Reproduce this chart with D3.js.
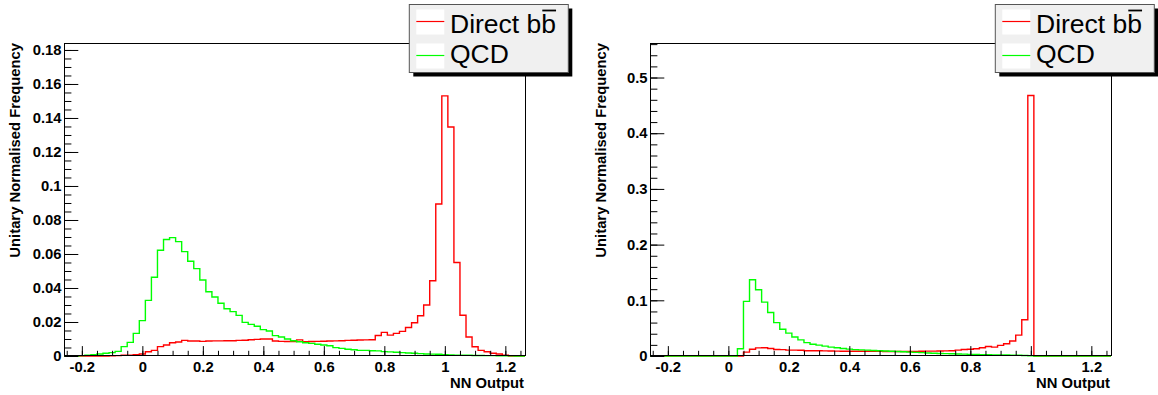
<!DOCTYPE html>
<html>
<head>
<meta charset="utf-8">
<script src="https://cdn.jsdelivr.net/npm/d3@7"></script>
<style>
  body { margin: 0; background: #fff; }
  svg { display: block; font-family: "Liberation Sans", Arial, Helvetica, sans-serif; }
  .tick text { font-weight: bold; font-size: 14.8px; fill: #000; }
</style>
</head>
<body>
<svg id="chart"></svg>
<script>
const width = 1158;
const height = 395;

// histogram binning (lower edge of first bin, bin width)
const binStart = -0.25;
const binWidth = 0.02;
const xDomain = [-0.259, 1.265];

// left panel: bin contents, bins centred on -0.24 ... 1.24
const redLeft = [
  0, 0, 0, 0, 0, 0, 0, 0.0001, 0.0002, 0.0004,
  0.0005, 0.0008, 0.0012, 0.0025, 0.0033, 0.0055, 0.0065, 0.0078, 0.0082, 0.0092,
  0.0088, 0.0088, 0.0086, 0.0088, 0.0089, 0.0089, 0.009, 0.009, 0.0092, 0.0093,
  0.0096, 0.0098, 0.0100, 0.0100, 0.0088, 0.0086, 0.0085, 0.0085, 0.0095, 0.0084,
  0.0085, 0.0086, 0.0087, 0.0088, 0.0089, 0.009, 0.0092, 0.0093, 0.0094, 0.0095,
  0.0096, 0.0121, 0.0139, 0.0123, 0.0133, 0.0145, 0.0168, 0.0196, 0.0237, 0.030,
  0.0443, 0.0894, 0.153, 0.1347, 0.055, 0.024, 0.0112, 0.0054, 0.0033, 0.0025,
  0.0016, 0.0012, 0.0005, 0, 0
];
const greenLeft = [
  0, 0, 0.0002, 0.0004, 0.0007, 0.0012, 0.0016, 0.002, 0.0027, 0.0055,
  0.008, 0.0133, 0.0208, 0.0327, 0.0463, 0.0622, 0.0685, 0.0696, 0.0673, 0.0614,
  0.0557, 0.0514, 0.0447, 0.0378, 0.0347, 0.031, 0.0278, 0.0261, 0.0239, 0.0198,
  0.0186, 0.0175, 0.0155, 0.0147, 0.012, 0.0112, 0.010, 0.009, 0.0084, 0.0078,
  0.0074, 0.0069, 0.0065, 0.006, 0.0049, 0.0045, 0.004, 0.0037, 0.0033, 0.0033,
  0.0031, 0.003, 0.0026, 0.0024, 0.0022, 0.002, 0.0018, 0.0016, 0.0014, 0.0012,
  0.0011, 0.001, 0.0008, 0.0006, 0.0005, 0.0004, 0.0004, 0.0003, 0.0003, 0.0002,
  0.0002, 0.0001, 0.0001, 0.0001, 0
];

// right panel
const redRight = [
  0, 0, 0, 0, 0, 0, 0, 0, 0, 0,
  0, 0, 0, 0, 0, 0.007, 0.012, 0.0145, 0.0147, 0.0136,
  0.0117, 0.0115, 0.0106, 0.0106, 0.0104, 0.0095, 0.0093, 0.0093, 0.0092, 0.009,
  0.0088, 0.0086, 0.0085, 0.0085, 0.0085, 0.0084, 0.0084, 0.0083, 0.0082, 0.008,
  0.008, 0.008, 0.0081, 0.0082, 0.0086, 0.0088, 0.0088, 0.009, 0.0092, 0.0095,
  0.0106, 0.0117, 0.012, 0.013, 0.0147, 0.017, 0.016, 0.019, 0.022, 0.027,
  0.0375, 0.065, 0.4677, 0, 0, 0, 0, 0, 0, 0,
  0, 0, 0, 0, 0
];
const greenRight = [
  0, 0, 0, 0, 0, 0, 0, 0, 0, 0,
  0, 0, 0, 0, 0.013, 0.098, 0.137, 0.119, 0.0967, 0.078,
  0.060, 0.048, 0.041, 0.034, 0.029, 0.024, 0.021, 0.0195, 0.0178, 0.016,
  0.0148, 0.0136, 0.0124, 0.0115, 0.011, 0.0105, 0.010, 0.0095, 0.009, 0.0085,
  0.008, 0.0075, 0.007, 0.0065, 0.006, 0.0055, 0.005, 0.0046, 0.0043, 0.004,
  0.0036, 0.0033, 0.003, 0.0028, 0.0025, 0.0023, 0.0021, 0.0019, 0.0017, 0.0015,
  0.0013, 0.001, 0.0005, 0, 0, 0, 0, 0, 0, 0,
  0, 0, 0, 0, 0
];

const xMajor = [-0.2, 0, 0.2, 0.4, 0.6, 0.8, 1, 1.2];
const xMinor = d3.range(-0.25, 1.2501, 0.05);
const yMajorLeft = [0, 0.02, 0.04, 0.06, 0.08, 0.1, 0.12, 0.14, 0.16, 0.18];
const yMajorRight = [0, 0.1, 0.2, 0.3, 0.4, 0.5];

const seriesNames = ["Direct b", "QCD"];
const seriesColors = ["#ff0000", "#00ff00"];

const frameTop = 43;
const frameW = 461;
const frameH = 313;

const svg = d3.select("#chart")
    .attr("width", width)
    .attr("height", height)
    .attr("viewBox", [0, 0, width, height]);

function fmt(v) {
    return String(+v.toFixed(2));
}

function drawPanel(left, yMax, yMajor, yMinorStep, red, green) {
    const g = svg.append("g");
    const x = d3.scaleLinear().domain(xDomain).range([left, left + frameW]);
    const y = d3.scaleLinear().domain([0, yMax]).range([frameTop + frameH, frameTop]);

    const line = d3.line()
        .x(d => x(d[0]))
        .y(d => y(d[1]))
        .curve(d3.curveStepAfter);

    function steps(vals) {
        const pts = [[xDomain[0], 0]];
        vals.forEach((v, i) => pts.push([binStart + i * binWidth, v]));
        pts.push([binStart + vals.length * binWidth, 0]);
        pts.push([xDomain[1], 0]);
        return pts;
    }

    [red, green].forEach((vals, i) => {
        g.append("path")
            .attr("d", line(steps(vals)))
            .attr("fill", "none")
            .attr("stroke", seriesColors[i])
            .attr("stroke-width", 1.4);
    });

    // frame
    g.append("rect")
        .attr("x", left + 0.5)
        .attr("y", frameTop + 0.5)
        .attr("width", frameW)
        .attr("height", frameH - 1)
        .attr("fill", "none")
        .attr("stroke", "#000")
        .attr("stroke-width", 1);

    const bottom = frameTop + frameH - 0.5;
    const xMinorAxis = d3.axisBottom(x).tickValues(xMinor).tickSize(-4.7).tickFormat("");
    const xMajorAxis = d3.axisBottom(x).tickValues(xMajor).tickSize(-9.4).tickPadding(5.5).tickFormat(fmt);
    g.append("g").attr("transform", `translate(0,${bottom})`).call(xMinorAxis)
        .call(a => a.select(".domain").remove());
    g.append("g").attr("transform", `translate(0,${bottom})`).call(xMajorAxis)
        .call(a => a.select(".domain").remove());

    const yMinor = d3.range(0, yMax + 1e-9, yMinorStep);
    const yMinorAxis = d3.axisLeft(y).tickValues(yMinor).tickSize(-6.9).tickFormat("");
    const yMajorAxis = d3.axisLeft(y).tickValues(yMajor).tickSize(-13.8).tickPadding(3).tickFormat(fmt);
    g.append("g").attr("transform", `translate(${left + 0.5},0)`).call(yMinorAxis)
        .call(a => a.select(".domain").remove());
    g.append("g").attr("transform", `translate(${left + 0.5},0)`).call(yMajorAxis)
        .call(a => a.select(".domain").remove());
    g.selectAll(".tick line").attr("stroke", "#000");

    // axis titles
    g.append("text")
        .attr("x", left + frameW - 1)
        .attr("y", 388)
        .attr("text-anchor", "end")
        .attr("font-weight", "bold")
        .attr("font-size", 14.8)
        .text("NN Output");
    g.append("text")
        .attr("transform", `translate(${left - 44},${frameTop}) rotate(-90)`)
        .attr("text-anchor", "end")
        .attr("font-weight", "bold")
        .attr("font-size", 14.8)
        .text("Unitary Normalised Frequency");

    // legend
    const lx = left + 345.3, ly = 4.5, lw = 159, lh = 68;
    g.append("rect")
        .attr("x", lx + 4).attr("y", ly + 4).attr("width", lw).attr("height", lh)
        .attr("fill", "#000");
    g.append("rect")
        .attr("x", lx).attr("y", ly).attr("width", lw).attr("height", lh)
        .attr("fill", "#f0f0f0").attr("stroke", "#555").attr("stroke-width", 1);
    seriesNames.forEach((name, i) => {
        const ry = ly + 5 + i * 34;
        g.append("rect")
            .attr("x", lx + 7).attr("y", ry).attr("width", 28).attr("height", 25)
            .attr("fill", "#fff");
        g.append("line")
            .attr("x1", lx + 7).attr("x2", lx + 35)
            .attr("y1", ry + 12).attr("y2", ry + 12)
            .attr("stroke", seriesColors[i]).attr("stroke-width", 1.2);
        const t = g.append("text")
            .attr("x", lx + 40.7)
            .attr("y", ly + 28 + i * 30.4)
            .attr("font-size", 26.5)
            .text(i === 0 ? name + "b" : name);
        if (i === 0) {
            const node = t.node();
            const idx = name.length;
            const start = node.getStartPositionOfChar(idx).x;
            const w = node.getSubStringLength(idx, 1);
            g.append("line")
                .attr("x1", start + 1).attr("x2", start + w)
                .attr("y1", ly + 6).attr("y2", ly + 6)
                .attr("stroke", "#000").attr("stroke-width", 1.8);
        }
    });
}

drawPanel(64, 0.1841, yMajorLeft, 0.005, redLeft, greenLeft);
drawPanel(650, 0.562, yMajorRight, 0.02, redRight, greenRight);
</script>
</body>
</html>
